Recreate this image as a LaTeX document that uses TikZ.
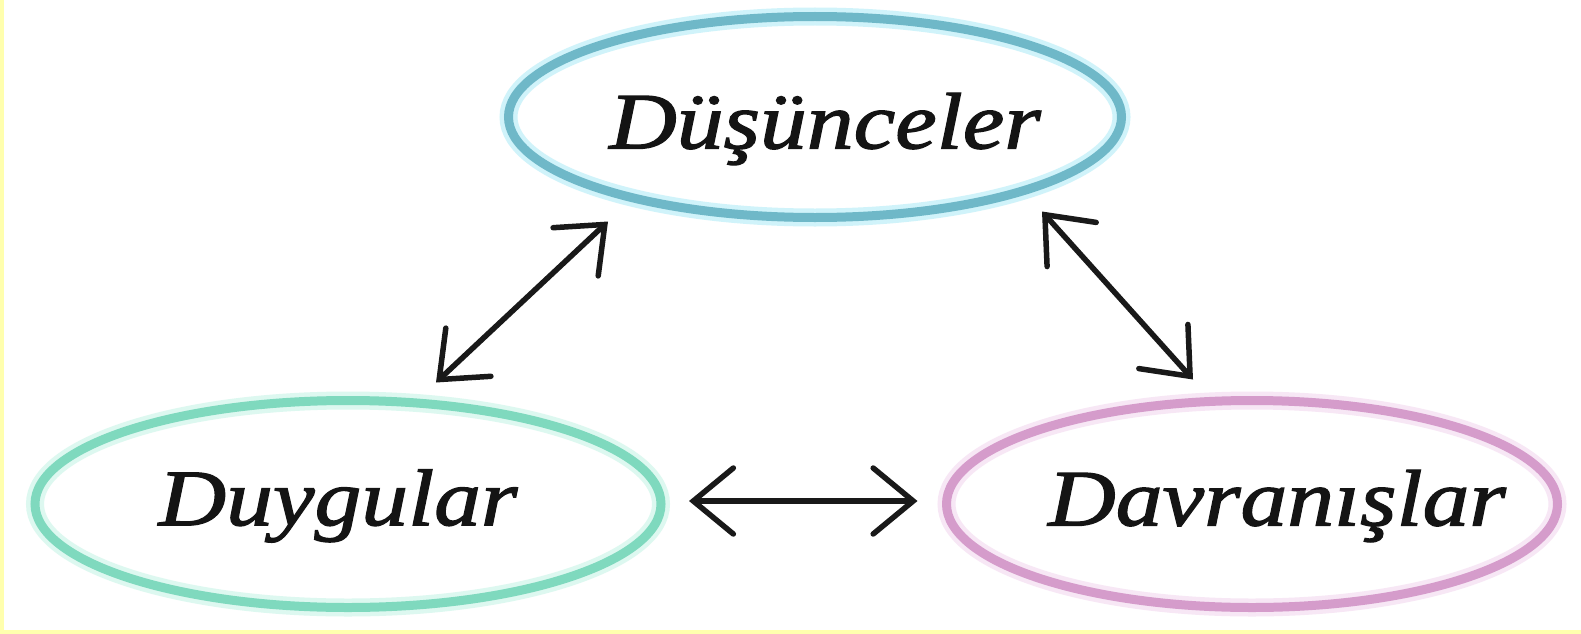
\documentclass[tikz,border=0pt]{standalone}
\usepackage{fontspec}
\usetikzlibrary{shapes.geometric,arrows.meta}
\newfontfamily\lblfont[FakeStretch=1.17,FakeBold=1.6]{Liberation Serif}

\definecolor{thinkcol}{HTML}{6FB8C8}
\definecolor{thinkglow}{HTML}{BDEFF8}
\definecolor{feelcol}{HTML}{7FD9BE}
\definecolor{feelglow}{HTML}{CFF6EA}
\definecolor{actcol}{HTML}{D59CCB}
\definecolor{actglow}{HTML}{F4DDF1}
\definecolor{framecol}{HTML}{FFFFAE}

\tikzset{
  ring/.style={ellipse, draw, line width=9pt, inner sep=0pt, outer sep=0pt},
  halo/.style={ellipse, draw=#1, line width=18pt, inner sep=0pt, outer sep=0pt, draw opacity=0.7},
  caption/.style={inner sep=0pt, font=\lblfont\itshape\fontsize{80}{96}\selectfont, text=black!92},
  link/.style={line width=5.5pt, black!90, line cap=round, line join=round,
    {Straight Barb[length=40pt,width=66pt,line cap=round]}-{Straight Barb[length=40pt,width=66pt,line cap=round]}}
}

\begin{document}
\begin{tikzpicture}[x=1pt,y=-1pt]
  % page frame: white sheet with a thin yellow edge on the left and bottom
  \fill[framecol] (0,0) rectangle (1581,634);
  \fill[white] (4,0) rectangle (1581,630);
  \useasboundingbox (0,0) rectangle (1581,634);

  % soft halos under the rings
  \node[halo=thinkglow, minimum width=613pt, minimum height=201pt] at (815,117) {};
  \node[halo=feelglow, minimum width=626pt, minimum height=207pt] at (348,504) {};
  \node[halo=actglow, minimum width=611pt, minimum height=207pt] at (1252,504) {};

  % the three rings
  \node[ring, draw=thinkcol, minimum width=613pt, minimum height=201pt] (dus) at (815,117) {};
  \node[ring, draw=feelcol, minimum width=626pt, minimum height=207pt] (duy) at (348,504) {};
  \node[ring, draw=actcol, minimum width=611pt, minimum height=207pt] (dav) at (1252,504) {};

  % ring captions
  \node[caption] (dusT) at ([xshift=10pt,yshift=-12pt]dus.center) {Düşünceler};
  \node[caption] (duyT) at ([xshift=-10pt,yshift=-2pt]duy.center) {Duygular};
  \node[caption] (davT) at ([xshift=25pt,yshift=-2pt]dav.center) {Davranışlar};

  % two-way links between the rings
  \draw[link] ([xshift=88pt,yshift=18pt]duy.north) -- ([xshift=-207pt,yshift=-4pt]dus.south);
  \draw[link] ([xshift=227pt,yshift=6pt]dus.south) -- ([xshift=-59pt,yshift=21pt]dav.north);
  \draw[link] ([xshift=28pt,yshift=3pt]duy.east) -- ([xshift=-29pt,yshift=3pt]dav.west);
\end{tikzpicture}
\end{document}
